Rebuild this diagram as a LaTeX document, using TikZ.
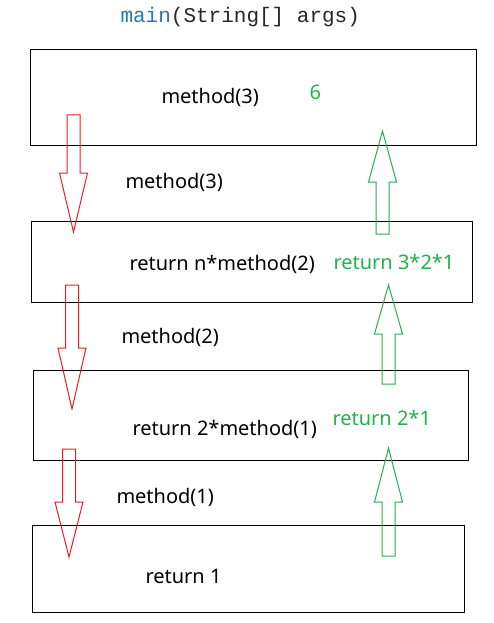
\documentclass[tikz,border=0pt]{standalone}
\usepackage{fontspec}
\setmainfont{Noto Sans}
\newfontfamily\codefont{Liberation Mono}
\definecolor{callred}{HTML}{ED1C24}
\definecolor{retgreen}{HTML}{22B14C}
\definecolor{keyblue}{HTML}{2A78A8}
\newcommand\blockarrow[5]{%
  \draw[#1] (#2-6.5,#3) -- (#2+6.5,#3) -- (#2+6.5,#4) -- (#2+14,#4)
    -- (#2,#5) -- (#2-14,#4) -- (#2-6.5,#4) -- cycle;}

\begin{document}
\begin{tikzpicture}[x=1pt, y=-1pt, line width=1pt,
    frame/.style={draw, anchor=north west, inner sep=0},
    lbl/.style={anchor=base west, inner sep=0, font=\fontsize{20}{24}\selectfont},
    ret/.style={lbl, text=retgreen}]
  \useasboundingbox (0,0) rectangle (493,623);
  \node[anchor=base west, inner sep=0, font=\codefont\fontsize{21}{25}\selectfont, text=black!85]
    (title) at (120,23) {\textcolor{keyblue}{main}(String[] args)};
  % stack frames
  \node[frame, minimum width=446, minimum height=96] (f3) at (30,49) {};
  \node[frame, minimum width=441, minimum height=81] (f2) at (31,221) {};
  \node[frame, minimum width=435, minimum height=90] (f1) at (33,370) {};
  \node[frame, minimum width=432, minimum height=87] (f0) at (32,525) {};
  % texts
  \node[lbl] (m3) at (161,103) {method(3)};
  \node[ret] (r6) at (309,100) {6};
  \node[lbl] (c3) at (125,188) {method(3)};
  \node[lbl] (b2) at (129,270) {return n*method(2)};
  \node[ret] (r321) at (333,269) {return 3*2*1};
  \node[lbl] (c2) at (121,343) {method(2)};
  \node[lbl] (b1) at (132,435) {return 2*method(1)};
  \node[ret] (r21) at (332,425) {return 2*1};
  \node[lbl] (c1) at (116,503) {method(1)};
  \node[lbl] (b0) at (145,583) {return 1};
  % calls
  \blockarrow{callred}{73.5}{115}{173}{232}
  \blockarrow{callred}{72}{285}{348}{409}
  \blockarrow{callred}{69}{449}{502}{557}
  % returns
  \blockarrow{retgreen}{382.5}{234}{182}{131}
  \blockarrow{retgreen}{388.5}{384}{334}{285}
  \blockarrow{retgreen}{388.5}{556}{502}{448}
\end{tikzpicture}
\end{document}
